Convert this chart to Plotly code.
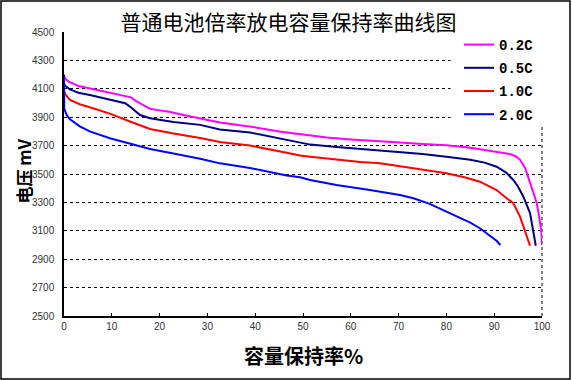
import plotly.graph_objects as go

# ---- data (capacity retention %, voltage mV) ----
x_02c = [0, 0.3, 1, 2, 3, 5, 7, 9, 11, 13, 14, 15, 16, 17, 18, 20, 22, 25, 28.5, 32.6, 36.8, 38.9,
         45, 49.4, 51.5, 55, 60, 66.1, 70.3, 75, 80, 85, 88, 90, 92, 93.3, 94.5, 95.4, 96.5, 97.5,
         98.3, 98.9, 99.4, 99.9, 100]
y_02c = [4190, 4170, 4150, 4135, 4120, 4105, 4090, 4078, 4065, 4050, 4040, 4015, 3995, 3975, 3959,
         3948, 3938, 3915, 3893, 3862, 3843, 3834, 3800, 3780, 3770, 3757, 3743, 3727, 3721, 3712,
         3702, 3685, 3670, 3660, 3650, 3640, 3625, 3600, 3540, 3434, 3360, 3296, 3200, 3085, 3000]

x_05c = [0, 0.3, 1.25, 2, 3, 5.4, 7.5, 9.6, 11, 12.8, 13.8, 15, 15.9, 18, 20, 22.9, 28.5, 32.6,
         38.9, 45, 49.4, 51.5, 57, 62, 66.1, 70.3, 75, 80, 85, 88, 90.5, 92.5, 94, 95, 96.1, 97.5,
         98.3, 98.7]
y_05c = [4135, 4120, 4096, 4085, 4072, 4056, 4038, 4021, 4010, 3998, 3975, 3940, 3915, 3893, 3880,
         3866, 3846, 3813, 3792, 3750, 3722, 3707, 3690, 3677, 3664, 3655, 3640, 3622, 3600, 3580,
         3551, 3510, 3458, 3410, 3340, 3225, 3085, 2995]

x_10c = [0, 0.3, 1.25, 3.3, 5.4, 7.5, 9.6, 13.8, 18, 22.9, 28.5, 32.6, 38.9, 45, 49.4, 51.5, 57,
         62, 66.1, 70.3, 73.1, 80, 84, 87, 90.5, 92.6, 94, 95.4, 96.4, 97, 97.5]
y_10c = [4085, 4060, 4021, 3991, 3970, 3948, 3925, 3870, 3817, 3785, 3754, 3725, 3700, 3660, 3630,
         3622, 3600, 3585, 3575, 3556, 3540, 3505, 3475, 3446, 3387, 3329, 3294, 3200, 3106, 3040,
         2995]

x_20c = [0, 0.05, 0.56, 1.25, 3.3, 5.4, 9.6, 13.8, 15, 18, 22.9, 28.5, 32.6, 38.9, 46.6, 49.4,
         51.5, 57, 64, 70.3, 73.1, 76.5, 80, 83.5, 85, 87, 89.1, 90.5, 91.3]
y_20c = [4200, 3958, 3915, 3885, 3835, 3800, 3752, 3712, 3700, 3676, 3645, 3608, 3575, 3542, 3490,
         3477, 3458, 3422, 3387, 3352, 3329, 3290, 3235, 3180, 3157, 3118, 3068, 3030, 3000]

series_names = ["0.2C", "0.5C", "1.0C", "2.0C"]
series_x = [x_02c, x_05c, x_10c, x_20c]
series_y = [y_02c, y_05c, y_10c, y_20c]
series_colors = ["#FF00FF", "#000080", "#FF0000", "#0000FF"]

x_ticks = list(range(0, 101, 10))
y_ticks = list(range(2500, 4501, 200))

title_text = "普通电池倍率放电容量保持率曲线图"
x_title = "容量保持率%"
y_title = "电压 mV"

CJK = "Noto Sans CJK SC"

fig = go.Figure()
for nm, xs, ys, c in zip(series_names, series_x, series_y, series_colors):
    fig.add_trace(go.Scatter(x=xs, y=ys, mode="lines", name=nm, legendgroup=nm,
                             line=dict(color=c, width=2)))

W, H = 572, 380
L, R, T, B = 64, 30, 32, 64
pw, ph = W - L - R, H - T - B


def px_x(p):  # window pixel -> paper x
    return (p - L) / pw


def px_y(p):  # window pixel -> paper y
    return (H - B - p) / ph


fig.update_layout(
    width=W, height=H,
    margin=dict(l=L, r=R, t=T, b=B),
    paper_bgcolor="white", plot_bgcolor="white",
    showlegend=True,
    legend=dict(x=px_x(459), y=px_y(29), xanchor="left", yanchor="top",
                bgcolor="rgba(0,0,0,0)", borderwidth=0, traceorder="grouped",
                tracegroupgap=2, itemwidth=30,
                font=dict(family="Liberation Mono", size=14, color="black", weight="bold")),
    title=dict(text=title_text, x=px_x(288.5), xref="paper", y=1 - 23 / H, yref="container",
               xanchor="center", yanchor="middle",
               font=dict(family=CJK, size=21, color="black")),
)

fig.update_xaxes(range=[0, 100], tickvals=x_ticks, ticktext=[str(v) for v in x_ticks],
                 showgrid=False, zeroline=False, showline=True, linecolor="black", linewidth=1.5,
                 ticks="inside", ticklen=3, tickcolor="black",
                 tickfont=dict(family="Liberation Sans", size=10, color="#333"))
fig.update_yaxes(range=[2500, 4500], tickvals=y_ticks, ticktext=[str(v) for v in y_ticks],
                 showgrid=True, gridcolor="black", gridwidth=1, griddash="3px,3px",
                 zeroline=False, showline=True, linecolor="black", linewidth=1.5,
                 ticks="", ticklabelstandoff=6,
                 tickfont=dict(family="Liberation Sans", size=10, color="#333"))

# right dashed border of plot area
fig.add_shape(type="line", xref="x domain", yref="y domain", x0=1, x1=1, y0=0, y1=1,
              line=dict(color="black", width=1, dash="3px,3px"), layer="below")
# white legend area hiding the gridlines
fig.add_shape(type="rect", xref="paper", yref="paper",
              x0=px_x(450.5), x1=px_x(545), y0=px_y(127), y1=px_y(29),
              line=dict(width=0), fillcolor="white", layer="above")
# outer frame of the chart
fig.add_shape(type="rect", xref="paper", yref="paper",
              x0=px_x(1), x1=px_x(570), y0=px_y(379), y1=px_y(1),
              line=dict(color="black", width=1.5), fillcolor="rgba(0,0,0,0)", layer="above")

fig.add_annotation(text=x_title, xref="paper", yref="paper", x=px_x(303.5),
                   y=px_y(355), showarrow=False, xanchor="center", yanchor="middle",
                   font=dict(family=CJK, size=20, color="black", weight="bold"))
fig.add_annotation(text=y_title, xref="paper", yref="paper", x=px_x(22.5),
                   y=px_y(171), showarrow=False, xanchor="center", yanchor="middle",
                   textangle=-90,
                   font=dict(family=CJK, size=17, color="black", weight="bold"))

fig.write_html("out.html", config={"displayModeBar": False},
               post_script="document.body.style.margin='0';document.body.style.overflow='hidden';")
